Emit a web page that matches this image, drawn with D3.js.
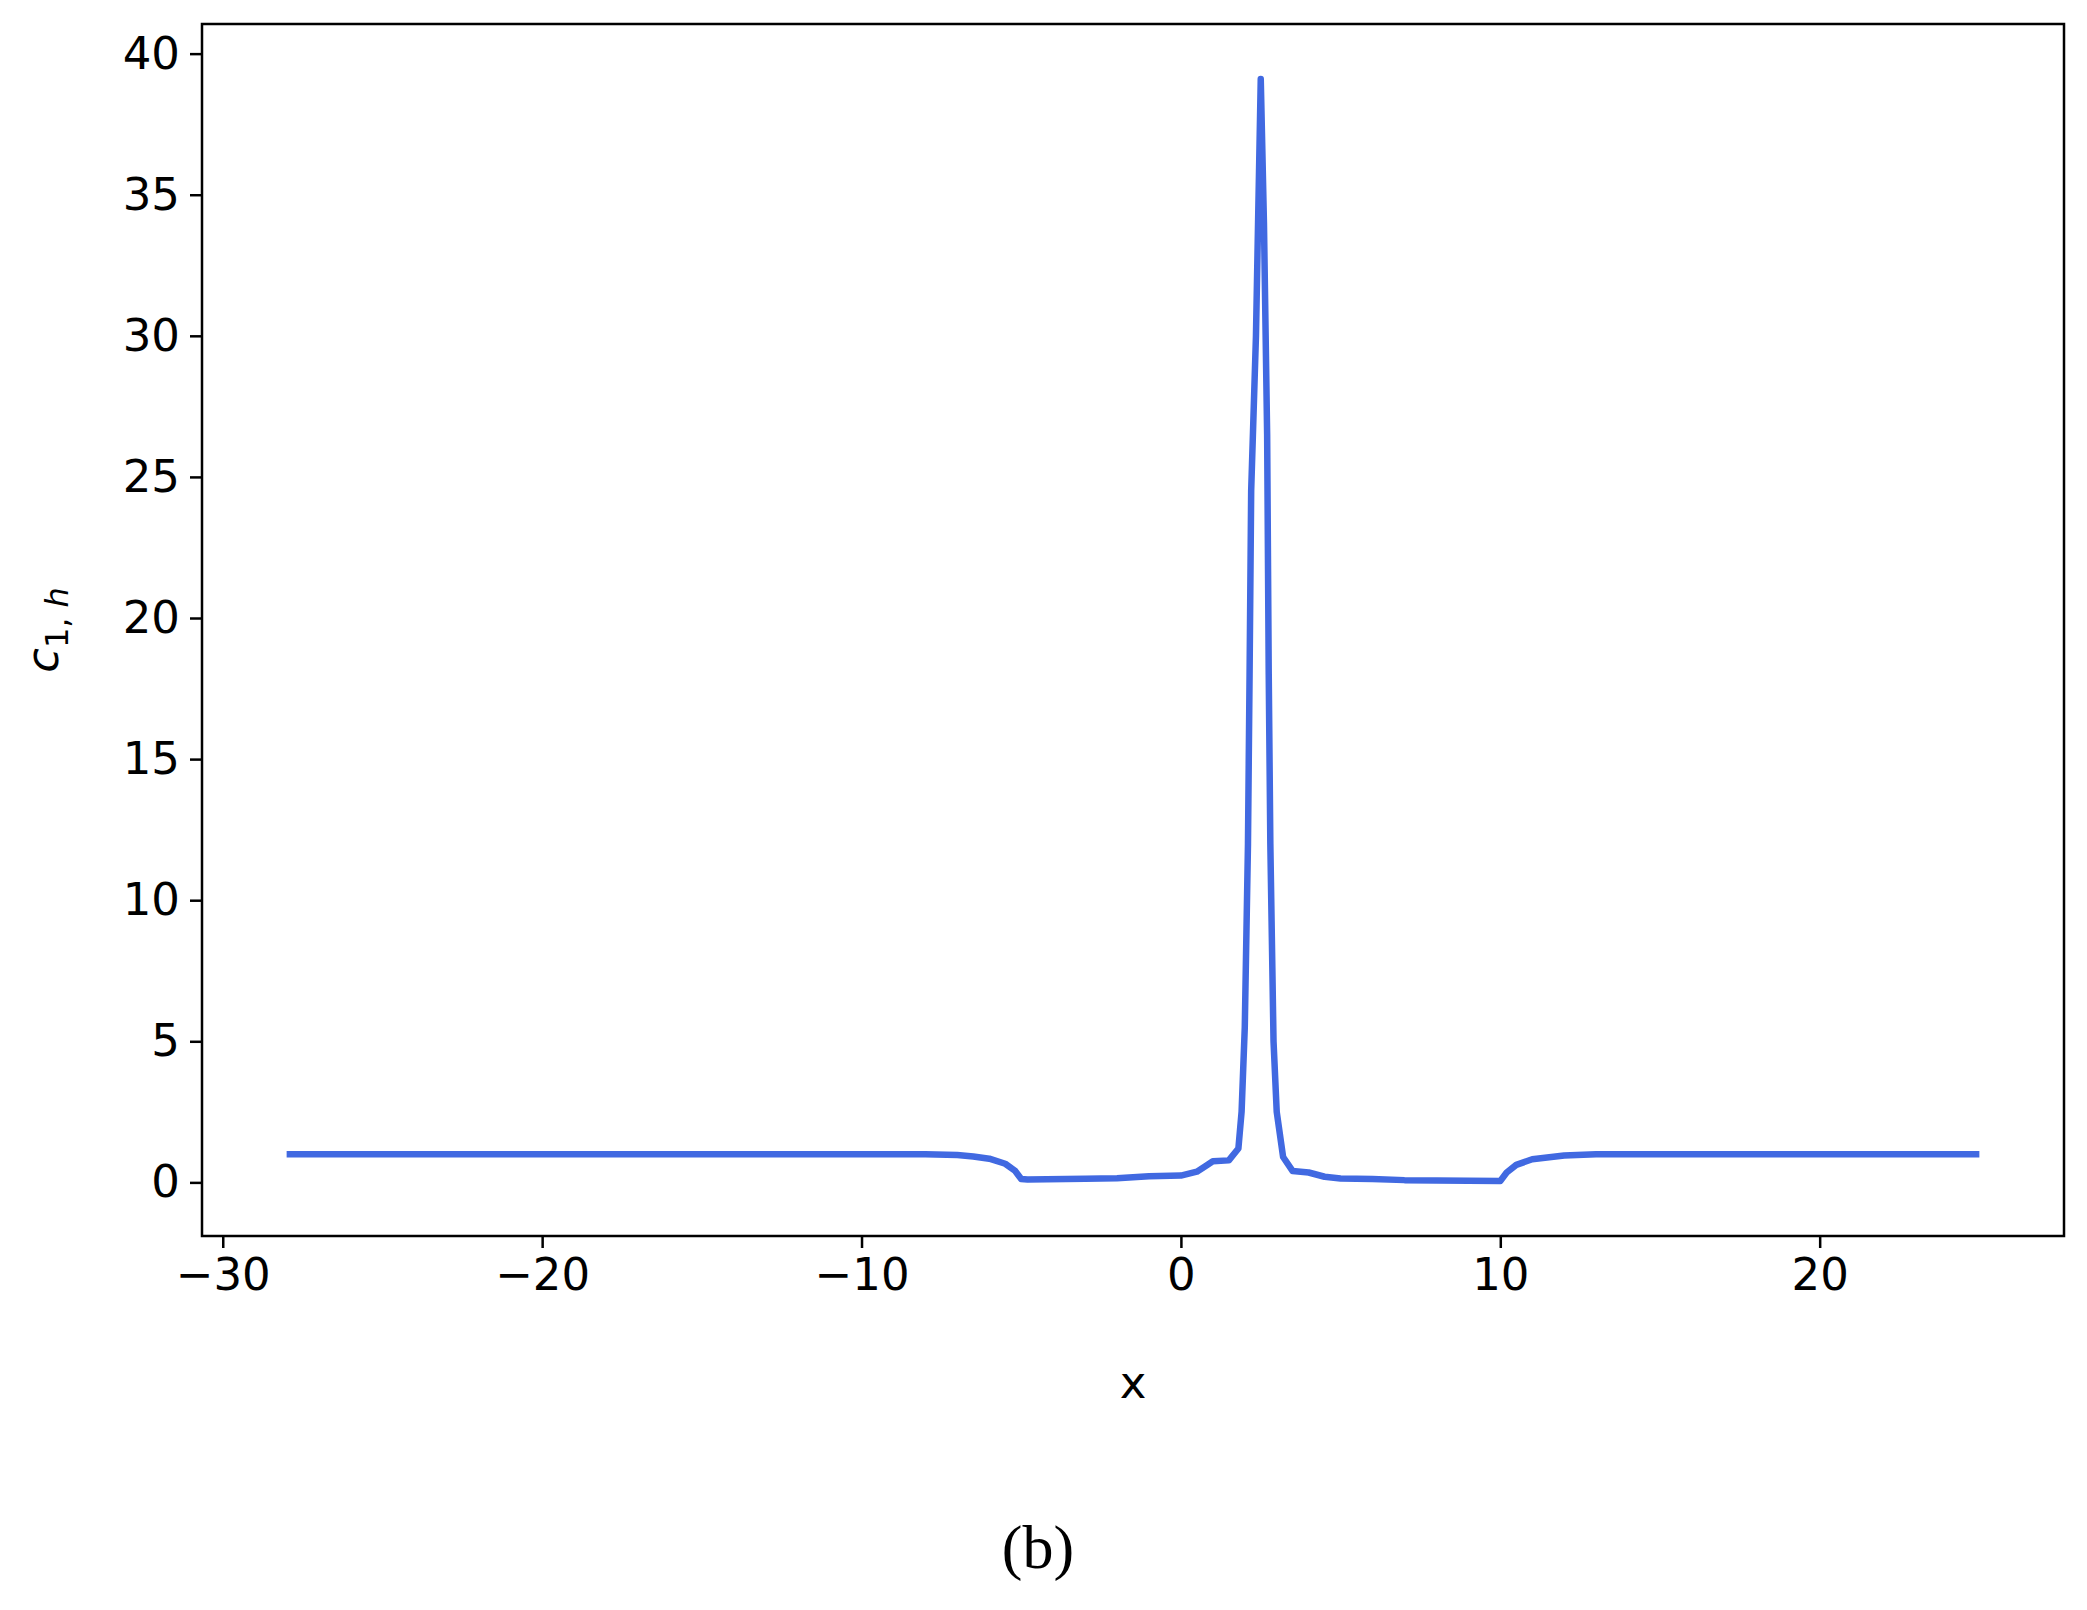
<!DOCTYPE html>
<html>
<head>
<meta charset="UTF-8">
<script src="https://cdn.jsdelivr.net/npm/d3@7"></script>
<style>
  body { margin: 0; background: #fff; }
  text { font-family: "DejaVu Sans", sans-serif; fill: #000; }
</style>
</head>
<body>
<svg id="chart" width="2087" height="1610"></svg>
<script>
// values
var xs = [-28, -20, -10, -8, -7, -6.5, -6, -5.5, -5.2, -5, -4.8, -3, -2, -1, 0, 0.5, 0.8, 1, 1.5, 1.8, 1.9, 2.0, 2.1, 2.15, 2.2, 2.35, 2.5, 2.6, 2.7, 2.75, 2.8, 2.9, 3.0, 3.2, 3.5, 4, 4.5, 5, 6, 7, 9, 10, 10.2, 10.5, 11, 12, 13, 20, 25];
var ys = [1.0, 1.0, 1.0, 1.0, 0.97, 0.92, 0.84, 0.66, 0.42, 0.12, 0.1, 0.13, 0.15, 0.22, 0.24, 0.38, 0.6, 0.75, 0.78, 1.2, 2.5, 5.5, 12, 18, 24.5, 30, 39.1, 34, 26.5, 18, 12, 5, 2.5, 0.9, 0.4, 0.35, 0.2, 0.14, 0.12, 0.08, 0.06, 0.05, 0.35, 0.62, 0.82, 0.95, 1.0, 1.0, 1.0];
var xTicks = [-30, -20, -10, 0, 10, 20];
var yTicks = [0, 5, 10, 15, 20, 25, 30, 35, 40];

var svg = d3.select("#chart");
var pLeft = 202, pRight = 2064, pTop = 24, pBottom = 1236;

var x = d3.scaleLinear().domain([-30.65, 27.65]).range([pLeft, pRight]);
var y = d3.scaleLinear().domain([-1.9, 41.05]).range([pBottom, pTop]);

var data = xs.map(function(d, i) { return [d, ys[i]]; });

svg.append("path")
  .datum(data)
  .attr("fill", "none")
  .attr("stroke", "#4169E1")
  .attr("stroke-width", 6.5)
  .attr("stroke-linejoin", "round")
  .attr("d", d3.line().x(function(d) { return x(d[0]); }).y(function(d) { return y(d[1]); }));

svg.append("rect")
  .attr("x", pLeft).attr("y", pTop)
  .attr("width", pRight - pLeft).attr("height", pBottom - pTop)
  .attr("fill", "none").attr("stroke", "#000").attr("stroke-width", 2.5);

var xAxis = svg.append("g").attr("transform", "translate(0," + pBottom + ")")
  .call(d3.axisBottom(x).tickValues(xTicks).tickSize(12).tickPadding(10)
    .tickFormat(function(d) { return d < 0 ? "\u2212" + Math.abs(d) : d; }));
var yAxis = svg.append("g").attr("transform", "translate(" + pLeft + ",0)")
  .call(d3.axisLeft(y).tickValues(yTicks).tickSize(12).tickPadding(10));

[xAxis, yAxis].forEach(function(g) {
  g.select(".domain").remove();
  g.selectAll("line").attr("stroke-width", 2.5);
  g.selectAll("text").style("font-family", "DejaVu Sans").attr("font-size", 45);
});

svg.append("text").attr("x", (pLeft + pRight) / 2).attr("y", 1398)
  .attr("text-anchor", "middle").attr("font-size", 45).text("x");

var yl = svg.append("text").attr("transform", "translate(58," + ((pTop + pBottom) / 2) + ") rotate(-90)")
  .attr("text-anchor", "middle").attr("font-size", 45);
yl.append("tspan").attr("font-style", "italic").text("c");
yl.append("tspan").attr("font-size", 32).attr("dy", 10).text("1,");
yl.append("tspan").attr("font-size", 32).attr("font-style", "italic").text(" h");

svg.append("text").attr("x", 1038).attr("y", 1568)
  .attr("text-anchor", "middle").attr("font-size", 62)
  .style("font-family", "'Liberation Serif', serif").text("(b)");
</script>
</body>
</html>
